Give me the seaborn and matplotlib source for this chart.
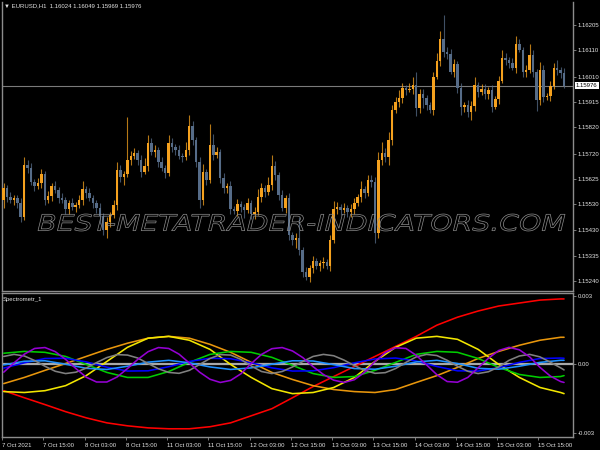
import numpy as np
import pandas as pd
import matplotlib
matplotlib.use("Agg")
import matplotlib.pyplot as plt
import matplotlib.transforms as mtransforms
from matplotlib.textpath import TextPath
from matplotlib.font_manager import FontProperties
from matplotlib.patches import PathPatch
from matplotlib.transforms import Affine2D
import seaborn as sns

# EURUSD H1 candles, one close per bar (open = previous close)
first_open = 1.15545
closes = [
    1.15590, 1.15556, 1.15545, 1.15553, 1.15534, 1.15481, 1.15677, 1.15666, 1.15613, 1.15598,
    1.15609, 1.15643, 1.15545, 1.15560, 1.15598, 1.15583, 1.15553, 1.15545, 1.15511, 1.15534,
    1.15519, 1.15526, 1.15545, 1.15586, 1.15571, 1.15553, 1.15534, 1.15515, 1.15485, 1.15432,
    1.15462, 1.15488, 1.15526, 1.15658, 1.15632, 1.15643, 1.15696, 1.15711, 1.15722, 1.15696,
    1.15651, 1.15673, 1.15760, 1.15726, 1.15734, 1.15688, 1.15666, 1.15647, 1.15760, 1.15745,
    1.15734, 1.15711, 1.15707, 1.15734, 1.15824, 1.15771, 1.15688, 1.15545, 1.15651, 1.15620,
    1.15752, 1.15715, 1.15726, 1.15628, 1.15590, 1.15598, 1.15511, 1.15504, 1.15530, 1.15519,
    1.15507, 1.15534, 1.15492, 1.15500, 1.15556, 1.15590, 1.15575, 1.15602, 1.15673, 1.15639,
    1.15564, 1.15515, 1.15553, 1.15413, 1.15394, 1.15402, 1.15357, 1.15274, 1.15255, 1.15289,
    1.15315, 1.15296, 1.15307, 1.15311, 1.15296, 1.15394, 1.15511, 1.15519, 1.15507, 1.15515,
    1.15500, 1.15511, 1.15534, 1.15556, 1.15586, 1.15571, 1.15620, 1.15613, 1.15421, 1.15696,
    1.15722, 1.15707, 1.15771, 1.15884, 1.15914, 1.15930, 1.15967, 1.15960, 1.15964, 1.15979,
    1.15892, 1.15945, 1.15930, 1.15903, 1.15884, 1.16009, 1.16069, 1.16152, 1.16103, 1.16095,
    1.16028, 1.16058, 1.15967, 1.15896, 1.15903, 1.15877, 1.15899, 1.15979, 1.15952, 1.15963,
    1.15945, 1.15960, 1.15896, 1.15926, 1.15994, 1.16080, 1.16073, 1.16061, 1.16043, 1.16133,
    1.16111, 1.16028, 1.16035, 1.16092, 1.16028, 1.15922, 1.16035, 1.15933, 1.15937, 1.15975,
    1.16043, 1.16035, 1.16024, 1.15976,
]
upper_wick_pips = [
    2, 1, 2, 1, 1, 2, 3, 2, 2, 1,  2, 2, 1, 2, 1, 2, 1, 2, 1, 1,
    2, 1, 2, 3, 1, 2, 1, 1, 2, 1,  2, 1, 2, 3, 2, 1, 16, 2, 2, 1,
    2, 3, 3, 2, 2, 1, 2, 1, 3, 2,  1, 2, 1, 3, 4, 2, 1, 2, 3, 1,
    8, 4, 2, 1, 2, 1, 2, 1, 2, 1,  1, 2, 1, 2, 3, 2, 1, 3, 4, 2,
    1, 2, 1, 2, 1, 2, 8, 1, 2, 1,  2, 1, 1, 2, 1, 2, 3, 2, 1, 2,
    1, 2, 2, 1, 3, 1, 2, 2, 2, 3,  4, 2, 3, 2, 2, 3, 2, 1, 2, 3,
    5, 2, 2, 1, 1, 2, 3, 3, 9, 2,  2, 2, 1, 2, 1, 2, 2, 3, 1, 2,
    2, 1, 2, 1, 2, 3, 2, 1, 2, 3,  2, 1, 2, 4, 2, 1, 3, 2, 1, 2,
    2, 3, 1, 2,
]
lower_wick_pips = [
    3, 2, 1, 2, 2, 2, 1, 2, 1, 2,  1, 2, 2, 1, 2, 1, 2, 1, 2, 2,
    1, 2, 1, 2, 2, 1, 2, 2, 3, 2,  3, 2, 1, 2, 2, 3, 1, 2, 1, 2,
    2, 1, 2, 1, 2, 2, 1, 2, 1, 2,  2, 1, 2, 1, 2, 2, 2, 3, 2, 2,
    1, 2, 1, 2, 2, 2, 2, 1, 2, 2,  3, 1, 2, 2, 1, 2, 2, 1, 2, 2,
    2, 1, 2, 2, 2, 3, 2, 2, 1, 2,  2, 1, 2, 2, 1, 2, 1, 2, 2, 1,
    2, 2, 2, 1, 2, 2, 1, 2, 4, 2,  2, 2, 3, 2, 1, 2, 2, 2, 1, 2,
    3, 2, 4, 2, 1, 2, 1, 2, 2, 2,  1, 2, 2, 3, 2, 2, 3, 2, 2, 1,
    2, 2, 2, 1, 2, 1, 2, 2, 1, 2,  1, 2, 2, 1, 2, 4, 2, 2, 1, 2,
    1, 2, 2, 1,
]

time_labels = ["7 Oct 2021", "7 Oct 15:00", "8 Oct 03:00", "8 Oct 15:00",
               "11 Oct 03:00", "11 Oct 15:00", "12 Oct 03:00", "12 Oct 15:00",
               "13 Oct 03:00", "13 Oct 15:00", "14 Oct 03:00", "14 Oct 15:00",
               "15 Oct 03:00", "15 Oct 15:00"]
price_ticks = [1.16205, 1.16110, 1.16010, 1.15915, 1.15820, 1.15720,
               1.15625, 1.15530, 1.15430, 1.15335, 1.15240]
last_price = 1.15976
header = "\u25bc EURUSD,H1  1.16024 1.16049 1.15969 1.15976"

# Spectrometr_1 lines
slow_bars = list(range(0, 163, 6)) + [163]
fast_bars = list(range(0, 163, 3)) + [163]
red_line = [-0.00115, -0.00146, -0.00176, -0.00207, -0.00234, -0.00256, -0.00269, -0.00278,
            -0.00282, -0.00282, -0.00273, -0.00256, -0.00225, -0.00194, -0.00146, -0.00097,
            -0.00053, -0.00009, 0.00035, 0.00079, 0.00123, 0.00172, 0.00207, 0.00234,
            0.00256, 0.00269, 0.00282, 0.00287, 0.00287]
orange_line = [-0.00084, -0.00057, -0.00026, 0.00004, 0.00035, 0.00066, 0.00093, 0.00115,
               0.00123, 0.00115, 0.00088, 0.00053, 0.00009, -0.00035, -0.00066, -0.00093,
               -0.0011, -0.00119, -0.00123, -0.0011, -0.00079, -0.00049, -0.00013, 0.00026,
               0.00057, 0.00084, 0.00106, 0.00119, 0.00119]
yellow_line = [-0.00119, -0.00123, -0.00115, -0.00093, -0.00049, 0.00013, 0.00075, 0.00115,
               0.00123, 0.00106, 0.00066, 0.0, -0.00057, -0.00106, -0.00128, -0.00123,
               -0.00101, -0.00057, 0.00013, 0.00075, 0.00115, 0.00123, 0.0011, 0.00066,
               0.0, -0.00057, -0.00101, -0.00123, -0.00128]
green_line = [0.00049, 0.00057, 0.00053, 0.00035, 0.0, -0.00035, -0.00057, -0.00057,
              -0.00031, 0.00009, 0.00044, 0.00057, 0.00053, 0.00031, -0.00004, -0.0004,
              -0.00057, -0.00053, -0.00026, 0.00009, 0.00044, 0.00057, 0.00053, 0.00026,
              -0.00013, -0.00044, -0.00057, -0.00053, -0.00049]
blue_line = [-0.00016, 0.00007, 0.00026, 0.00027, 0.00011, -0.00012, -0.00029, -0.00028,
             -0.0001, 0.00013, 0.00027, 0.00025, 0.00007, -0.00015, -0.00029, -0.00028,
             -0.00014, 0.00007, 0.00024, 0.00028, 0.00015, -0.00009, -0.00028, -0.00029,
             -0.00014, 0.00009, 0.00026, 0.00028, 0.00027]
skyblue_line = [-0.00002, 0.00014, 0.00016, 0.00001, -0.00017, -0.00022, -0.00008, 0.0001,
                0.00018, 0.00007, -0.00011, -0.00022, -0.00015, 0.00001, 0.00016, 0.00015,
                -0.00001, -0.00018, -0.00021, -0.00008, 0.00011, 0.00018, 0.00004, -0.00017,
                -0.00021, -0.00008, 0.00009, 0.00018, 0.00018]
violet_line = [-0.00034, 0.00007, 0.00045, 0.0007, 0.00074, 0.00056, 0.00022, -0.00018,
               -0.00056, -0.00077, -0.00077, -0.00055, -0.00018, 0.00022, 0.00056, 0.00074,
               0.0007, 0.00045, 0.00006, -0.00034, -0.00065, -0.00079, -0.0007, -0.00041,
               0.00004, 0.00044, 0.00069, 0.00074, 0.00059, 0.0003, -0.0001, -0.00044,
               -0.00069, -0.00079, -0.00067, -0.00034, 0.00013, 0.00052, 0.00073, 0.0007,
               0.0004, -0.00002, -0.00045, -0.00075, -0.00078, -0.00057, -0.00015, 0.00027,
               0.00061, 0.00075, 0.00064, 0.00033, -0.00013, -0.00051, -0.00075, -0.00079]
gray_line = [0.00035, 0.00044, 0.00037, 0.00017, -0.00008, -0.0003, -0.0004, -0.00034,
             -0.00016, 0.00008, 0.0003, 0.00043, 0.00041, 0.00028, 0.00004, -0.00019,
             -0.00035, -0.00039, -0.00026, 0.0, 0.00026, 0.00043, 0.00041, 0.00022,
             -0.00007, -0.00031, -0.0004, -0.00031, -0.00011, 0.00013, 0.00035, 0.00044,
             0.00038, 0.00019, -0.00005, -0.00026, -0.00039, -0.00036, -0.00018, 0.00009,
             0.00033, 0.00044, 0.00039, 0.00018, -0.00008, -0.0003, -0.0004, -0.00032,
             -0.00011, 0.00018, 0.00037, 0.00044, 0.00033, 0.0001, -0.00015, -0.00024]

line_colors = {"red": "#FF0000", "orange": "#E8960C", "yellow": "#F2E600",
               "green": "#00CC00", "blue": "#0000FF", "skyblue": "#1E90FF",
               "violet": "#9400D3", "gray": "#808080"}

sns.set_style("dark", {"axes.facecolor": "black", "figure.facecolor": "black"})
plt.rcParams["font.family"] = ["Liberation Sans", "DejaVu Sans"]

fg = "#E4E4E4"
frame = "#8C8C8C"
fs = 4.3

fig = plt.figure(figsize=(6, 4.5), dpi=100, facecolor="black")
ax = fig.add_axes([2 / 600, 1 - 291 / 450, 571 / 600, 289 / 450])
ax2 = fig.add_axes([2 / 600, 1 - 437 / 450, 571 / 600, 144 / 450])

x_left, x_right = -0.44, 165.6

# ---- candles ----
closes_a = np.array(closes)
opens_a = np.concatenate([[first_open], closes_a[:-1]])
bars = np.arange(len(closes_a))
body_top = np.maximum(opens_a, closes_a)
body_bot = np.minimum(opens_a, closes_a)
highs = body_top + np.array(upper_wick_pips) * 0.0001
lows = body_bot - np.array(lower_wick_pips) * 0.0001
up = closes_a >= opens_a
cols = np.where(up, "#F5A11E", "#566C88")

ax.vlines(bars, lows, highs, colors=cols, linewidth=0.8, alpha=0.75, zorder=2)
ax.bar(bars, np.maximum(body_top - body_bot, 0.00003), bottom=body_bot,
       width=0.72, color=cols, linewidth=0, zorder=3)
ax.axhline(last_price, color="#7A7A7A", linewidth=0.8, zorder=1)

ax.set_xlim(x_left, x_right)
ax.set_ylim(1.15202, 1.16291)
ax.yaxis.tick_right()
ax.set_yticks(price_ticks)
ax.set_yticklabels([f"{p:.5f}" for p in price_ticks])
ax.set_xticks([])
ax.tick_params(axis="y", colors=frame, labelcolor=fg, labelsize=fs, length=2,
               width=0.6, pad=1.5, right=True, left=False)
ax.grid(False)
for side in ["left", "right", "bottom"]:
    ax.spines[side].set_visible(True)
    ax.spines[side].set_color(frame)
    ax.spines[side].set_linewidth(1)
ax.spines["top"].set_visible(False)

trans = mtransforms.blended_transform_factory(ax.transAxes, ax.transData)
ax.text(1.005, last_price, f"{last_price:.5f}", transform=trans, fontsize=fs,
        color="black", va="center", ha="left",
        bbox=dict(boxstyle="square,pad=0.2", fc="white", ec="none"))

# ---- spectrometer ----
parts = []
for name, xs, vals in [("red", slow_bars, red_line), ("orange", slow_bars, orange_line),
                       ("yellow", slow_bars, yellow_line), ("green", slow_bars, green_line),
                       ("blue", slow_bars, blue_line), ("skyblue", slow_bars, skyblue_line),
                       ("gray", fast_bars, gray_line), ("violet", fast_bars, violet_line)]:
    parts.append(pd.DataFrame({"bar": xs, "value": vals, "line": name}))
spec = pd.concat(parts, ignore_index=True)

ax2.axhline(0, color="#A8A8A8", linewidth=1.6, zorder=1)
sns.lineplot(data=spec, x="bar", y="value", hue="line", palette=line_colors,
             estimator=None, legend=False, linewidth=1.15, ax=ax2, zorder=3)
ax2.set_xlim(x_left, x_right)
ax2.set_ylim(-0.00318, 0.00313)
ax2.set_xlabel("")
ax2.set_ylabel("")
ax2.yaxis.tick_right()
ax2.set_yticks([0.003, 0.0, -0.003])
ax2.set_yticklabels(["0.003", "0.00", "-0.003"])
ax2.set_xticks([12 * i - 0.5 for i in range(len(time_labels))])
ax2.set_xticklabels(time_labels)
for lbl in ax2.get_xticklabels():
    lbl.set_horizontalalignment("left")
ax2.tick_params(axis="y", colors=frame, labelcolor=fg, labelsize=fs, length=2,
                width=0.6, pad=1.5, right=True, left=False)
ax2.tick_params(axis="x", colors=frame, labelcolor=fg, labelsize=fs, length=2.5,
                width=0.6, pad=1.5, bottom=True)
ax2.grid(False)
for side in ["left", "right", "bottom", "top"]:
    ax2.spines[side].set_visible(True)
    ax2.spines[side].set_color(frame)
    ax2.spines[side].set_linewidth(1)

fig.text(4 / 600, 1 - 6 / 450, header, fontsize=fs, color=fg, va="center", ha="left")
fig.text(3 / 600, 1 - 299 / 450, "Spectrometr_1", fontsize=fs, color=fg,
         va="center", ha="left")

# ---- watermark (outlined italic text) ----
wm = fig.add_axes([0, 0, 1, 1], facecolor="none", zorder=5)
wm.set_xlim(0, 600)
wm.set_ylim(450, 0)
wm.axis("off")
tp = TextPath((0, 0), "BEST-METATRADER-INDICATORS.COM", size=1,
              prop=FontProperties(family="DejaVu Sans", style="italic"))
ext = tp.get_extents()
sx = (565 - 38) / ext.width
sy = (231 - 214) / ext.height
tr = Affine2D().translate(-ext.x0, -ext.y0).scale(sx, -sy).translate(38, 231)
wm.add_patch(PathPatch(tr.transform_path(tp), facecolor="none",
                       edgecolor="#8E8E8E", linewidth=0.5))

fig.savefig("out.png", dpi=100, facecolor="black")
